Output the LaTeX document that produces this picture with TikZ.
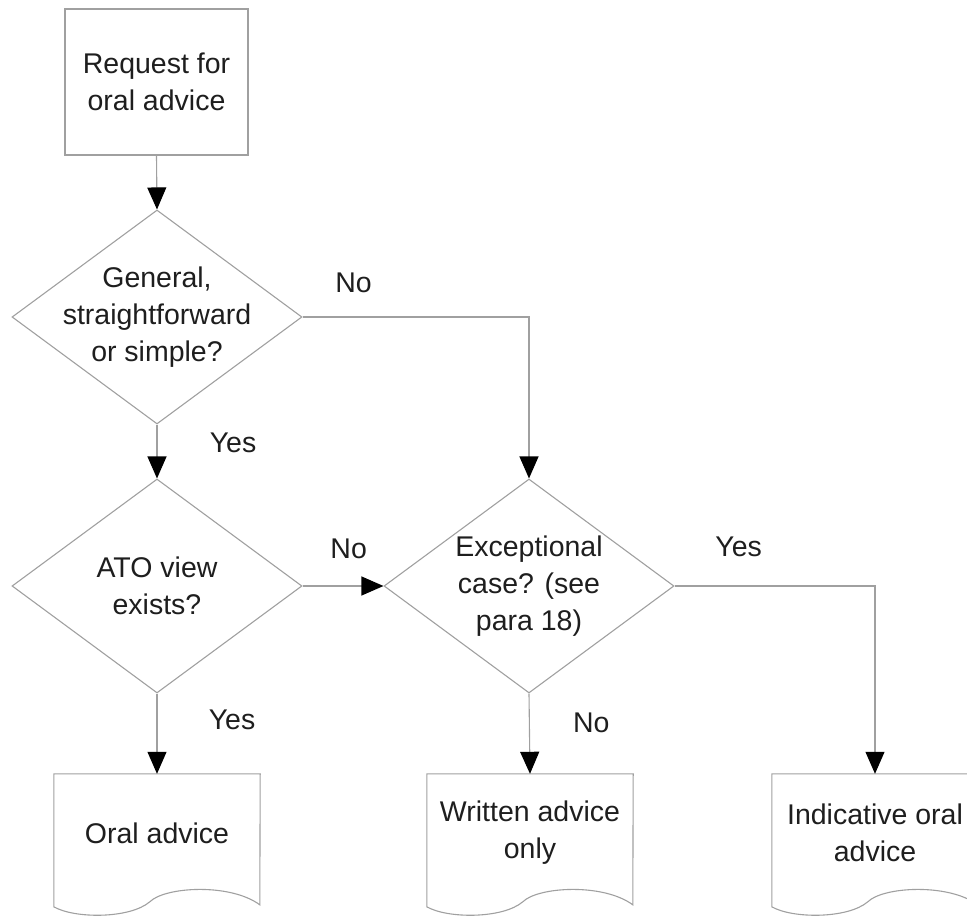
\documentclass[tikz,border=0pt]{standalone}
\usepackage{fontspec}
\setmainfont{Liberation Sans}
\usetikzlibrary{shapes.geometric,arrows.meta}
\definecolor{linegray}{RGB}{160,160,160}
\definecolor{txtcol}{RGB}{30,30,30}
\newcommand\docoutline[1]{%
  \draw[shapeline] (#1.north west) -- ++(0,133)
    .. controls +(21,12) and +(-20,17) .. ++(96,-5)
    .. controls +(15,-15) and +(-30,-22) .. ++(110,3)
    -- (#1.north east) -- cycle;}
\begin{document}
\begin{tikzpicture}[x=1pt,y=-1pt,
  shapeline/.style={draw=linegray,line width=1.1pt},
  font=\fontsize{28.5}{37}\selectfont,
  every node/.style={text=txtcol},
  boxnode/.style={shapeline,rectangle,minimum width=183pt,minimum height=146pt,align=center,inner sep=0pt},
  dia/.style={shapeline,diamond,minimum width=290pt,minimum height=214pt,inner sep=0pt},
  diatext/.style={align=center,inner sep=0pt,text=txtcol},
  docnode/.style={rectangle,minimum width=206pt,minimum height=118pt,align=center,inner sep=0pt},
  conn/.style={draw=linegray,line width=1.1pt,-{Triangle[length=22pt,width=19pt,color=black]}},
  lbl/.style={inner sep=0pt,text=txtcol}]
\useasboundingbox (0,0) rectangle (967,917);

\node[boxnode] (start) at (156.5,82) {Request for\\oral advice};
\node[dia,label={[diatext]center:General,\\straightforward\\or simple?}] (d1) at (157,317) {};
\node[dia,label={[diatext]center:ATO view\\exists?}] (d2) at (157,586) {};
\node[dia,label={[diatext]center:Exceptional\\case? (see\\para 18)}] (d3) at (529,586) {};

\node[docnode] (doc1) at (157,833) {Oral advice};
\node[docnode] (doc2) at (530,833) {Written advice\\only};
\node[docnode] (doc3) at (875,833) {Indicative oral\\advice};
\docoutline{doc1}
\docoutline{doc2}
\docoutline{doc3}

\draw[conn] (start.south) -- (d1.north);
\draw[conn] (d1.east) -| node[lbl,pos=0.1125,yshift=34pt] (l1) {No} (d3.north);
\draw[conn] (d1.south) -- node[lbl,pos=0.33,xshift=76pt] (l2) {Yes} (d2.north);
\draw[conn] (d2.east) -- node[lbl,pos=0.57,yshift=37pt] (l3) {No} (d3.west);
\draw[conn] (d3.east) -| node[lbl,pos=0.16,yshift=39pt] (l4) {Yes} (doc3.north);
\draw[conn] (d3.south) -- node[lbl,pos=0.37,xshift=62pt] (l5) {No} (doc2.north);
\draw[conn] (d2.south) -- node[lbl,pos=0.33,xshift=75pt] (l6) {Yes} (doc1.north);
\end{tikzpicture}
\end{document}
